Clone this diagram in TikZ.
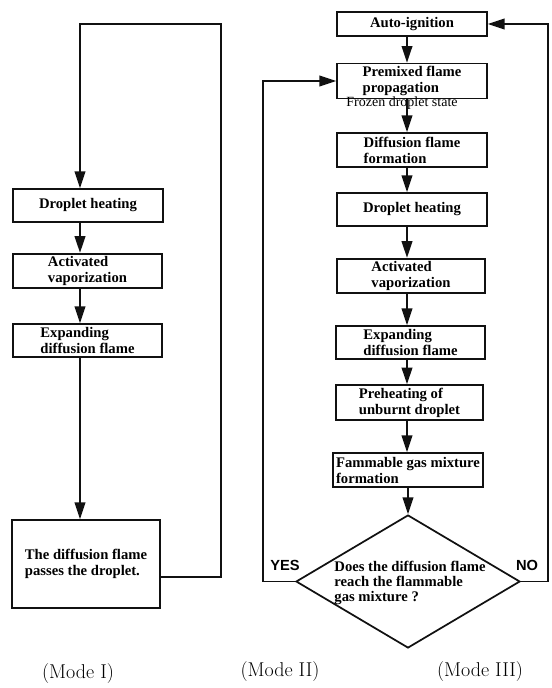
\documentclass[tikz,border=0pt]{standalone}
\usepackage{fontspec}
\usepackage{tikz}
\usepackage{xcolor}
\usetikzlibrary{arrows.meta,positioning,shapes.geometric,calc}
\newfontfamily\boxfont{Liberation Serif}
\newfontfamily\answerfont{Liberation Sans}
\definecolor{ink}{HTML}{111111}
\tikzset{
  stepbox/.style={draw=ink,fill=white,line width=1.3pt,
                  minimum width=112.5pt,minimum height=24.75pt,
                  align=left,inner sep=2pt,
                  font=\boxfont\bfseries\fontsize{11}{12}\selectfont},
  testbox/.style={draw=ink,diamond,line width=1.3pt,inner sep=0pt,
                  minimum width=168pt,minimum height=99.75pt},
  testtext/.style={align=left,inner sep=0pt,
                   font=\boxfont\bfseries\fontsize{11}{11}\selectfont},
  notetext/.style={font=\boxfont\fontsize{10.5}{12}\selectfont,inner sep=0pt},
  answer/.style={font=\answerfont\bfseries\fontsize{11}{12}\selectfont,inner sep=0pt},
  modelabel/.style={font=\fontsize{15}{17}\selectfont,inner sep=0pt},
  flowarr/.style={-{Triangle[length=12.5pt,width=8pt]},line width=1.3pt,draw=ink},
  loopline/.style={line width=1.3pt,draw=ink}
}

\begin{document}
\begin{tikzpicture}[x=0.75pt,y=-0.75pt]
    \path[use as bounding box] (0,0) rectangle (551,688);
    \coordinate (colL) at (80,0);
    \coordinate (colR) at (407,0);

    % Mode I
    \node[stepbox] (dropL) at (88,205.5) {Droplet heating};
    \node[stepbox,minimum width=111.75pt,minimum height=23.25pt] (actL) at (87.5,271)
      {Activated\\vaporization};
    \node[stepbox,minimum width=111.75pt] (expL) at (87.5,340.5)
      {Expanding\\diffusion flame};
    \node[stepbox,minimum width=111pt,minimum height=66pt] (passL) at (86,564)
      {The diffusion flame\\passes the droplet.};
    \draw[flowarr] (dropL.south -| colL) -- (actL.north -| colL);
    \draw[flowarr] (actL.south -| colL) -- (expL.north -| colL);
    \draw[flowarr] (expL.south -| colL) -- (passL.north -| colL);
    \coordinate (loopIbot) at (221,577);
    \coordinate (loopItop) at (221,24);
    \draw[flowarr] (passL.east |- loopIbot) -- (loopIbot) -- (loopItop)
      -| (dropL.north -| colL);

    % Mode II and III
    \node[stepbox,minimum height=18pt] (auto) at (412,24) {Auto-ignition};
    \node[stepbox,minimum height=24pt] (premix) at (412,81)
      {Premixed flame\\propagation};
    \node[stepbox,minimum height=25.5pt] (difform) at (412,150)
      {Diffusion flame\\formation};
    \node[stepbox] (dropR) at (412,209.5) {Droplet heating};
    \node[stepbox,minimum width=111pt,minimum height=25.5pt] (actR) at (411,276)
      {Activated\\vaporization};
    \node[stepbox,minimum width=111.75pt] (expR) at (410.5,342.5)
      {Expanding\\diffusion flame};
    \node[stepbox,minimum width=110.25pt,minimum height=23.25pt] (preheat) at (409.5,402.5)
      {Preheating of\\unburnt droplet};
    \node[stepbox,minimum height=25.5pt] (flamm) at (408,470)
      {Fammable gas mixture\\formation};
    \node[testbox] (dia) at (408,581.5) {};
    \node[testtext] (question) at (410,583)
      {Does the diffusion flame\\reach the flammable\\gas mixture ?};
    \draw[flowarr] (auto.south -| colR) -- (premix.north -| colR);
    \draw[flowarr] (premix.south -| colR) -- (difform.north -| colR);
    \node[notetext] (frozen) at (402,103) {Frozen droplet state};
    \draw[flowarr] (difform.south -| colR) -- (dropR.north -| colR);
    \draw[flowarr] (dropR.south -| colR) -- (actR.north -| colR);
    \draw[flowarr] (actR.south -| colR) -- (expR.north -| colR);
    \draw[flowarr] (expR.south -| colR) -- (preheat.north -| colR);
    \draw[flowarr] (preheat.south -| colR) -- (flamm.north -| colR);
    \draw[flowarr] (flamm.south -| dia.north) -- (dia.north);

    \coordinate (yesX) at (263,0);
    \coordinate (noX) at (548,0);
    \draw[flowarr] (dia.west) -| (yesX |- premix.west) -- (premix.west);
    \draw[flowarr] (dia.east) -| (noX |- auto.east) -- (auto.east);
    \node[answer] (yes) at (285,565) {YES};
    \node[answer] (no) at (527,565) {NO};

    \node[modelabel] (modeI) at (78,674) {(Mode I)};
    \node[modelabel] (modeII) at (280,672) {(Mode II)};
    \node[modelabel] (modeIII) at (480,672) {(Mode III)};
  \end{tikzpicture}
\end{document}
